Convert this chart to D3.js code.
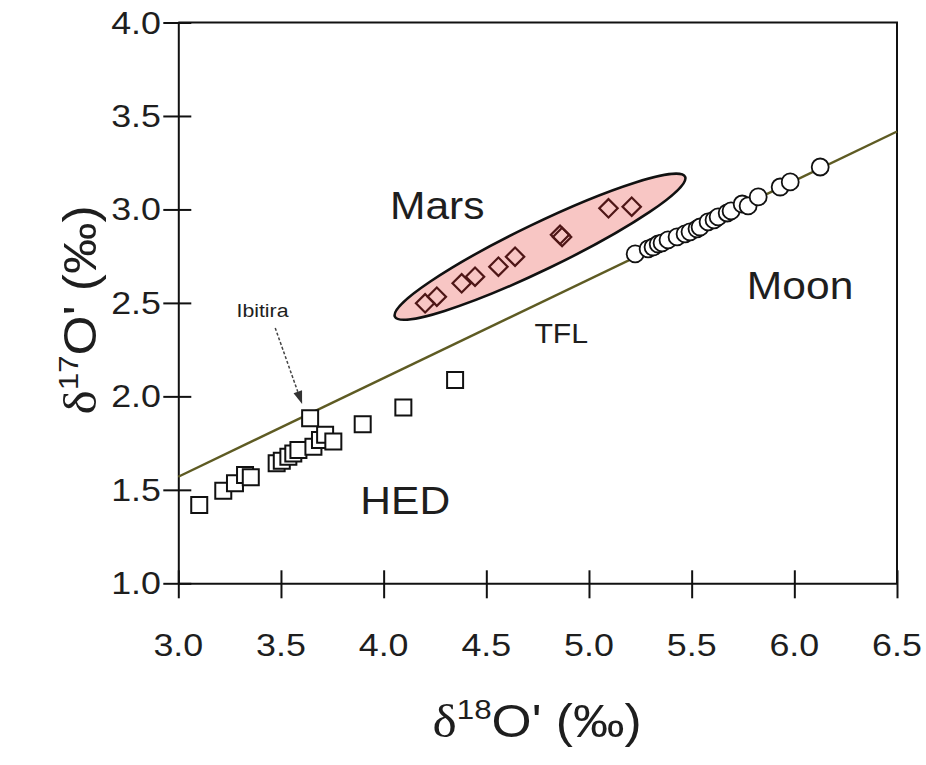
<!DOCTYPE html>
<html>
<head>
<meta charset="utf-8">
<script src="https://cdn.jsdelivr.net/npm/d3@7"></script>
<style>
  body { margin: 0; background: #fff; }
  text { font-family: "Liberation Sans", Arial, sans-serif; fill: #1e1e1e; }
</style>
</head>
<body>
<svg id="chart" width="926" height="765"></svg>
<script>
// Axis ticks
const xTicks = [3.0, 3.5, 4.0, 4.5, 5.0, 5.5, 6.0, 6.5];
const yTicks = [1.0, 1.5, 2.0, 2.5, 3.0, 3.5, 4.0];

// HED meteorites (squares)
const hedX = [3.102, 3.219, 3.276, 3.325, 3.353, 3.479, 3.504, 3.536, 3.560, 3.585, 3.658, 3.690, 3.715, 3.755, 3.898, 4.096, 4.348];
const hedY = [1.419, 1.495, 1.535, 1.579, 1.567, 1.642, 1.656, 1.677, 1.695, 1.713, 1.731, 1.767, 1.794, 1.758, 1.851, 1.940, 2.088];
// Ibitira (anomalous eucrite)
const ibitiraX = [3.642];
const ibitiraY = [1.883];

// Martian meteorites (diamonds)
const marsX = [4.202, 4.259, 4.380, 4.445, 4.559, 4.640, 4.859, 4.869, 5.095, 5.208];
const marsY = [2.498, 2.533, 2.605, 2.640, 2.694, 2.747, 2.864, 2.853, 3.006, 3.015];

// Lunar samples (circles)
const moonX = [5.225, 5.288, 5.312, 5.337, 5.356, 5.385, 5.429, 5.468, 5.492, 5.526, 5.541, 5.580, 5.609, 5.629, 5.673, 5.692, 5.746, 5.775, 5.824, 5.931, 5.980, 6.126];
const moonY = [2.762, 2.789, 2.799, 2.815, 2.821, 2.837, 2.853, 2.869, 2.880, 2.896, 2.906, 2.933, 2.944, 2.960, 2.981, 2.992, 3.029, 3.019, 3.067, 3.120, 3.147, 3.227];

// Terrestrial fractionation line end points
const tflX = [3.0, 6.5];
const tflY = [1.570, 3.417];

// Mars field ellipse: major-axis ends and one minor-axis end
const marsFieldX = [4.055, 5.468, 4.713];
const marsFieldY = [2.426, 3.175, 2.912];

// Ibitira arrow (start, tip)
const arrowX = [3.472, 3.603];
const arrowY = [2.366, 1.959];

const svg = d3.select("#chart");
const x = d3.scaleLinear().domain([3.0, 6.5]).range([178.3, 897]);
const y = d3.scaleLinear().domain([1.0, 4.0]).range([583.3, 22.5]);

const SX = 1.12; // horizontal text stretch

function label(g, px, py, txt, size, anchor, extra) {
  const t = g.append("text")
    .attr("transform", `translate(${px},${py}) scale(${SX},1)`)
    .attr("text-anchor", anchor || "middle")
    .style("font-size", size + "px");
  if (extra) extra(t);
  else t.text(txt);
  return t;
}

// Frame (top and right)
svg.append("path")
  .attr("d", `M${x(3.0)},${y(4.0)}H${x(6.5)}V${y(1.0)}`)
  .attr("fill", "none").attr("stroke", "#111").attr("stroke-width", 2);

// Axes with ticks crossing the axis line
const xAxis = svg.append("g")
  .attr("transform", `translate(0,${y(1.0)})`)
  .call(d3.axisBottom(x).tickValues(xTicks).tickSize(15).tickSizeOuter(0).tickFormat(""));
xAxis.selectAll(".tick line").attr("y1", -13).attr("y2", 15);
const yAxis = svg.append("g")
  .attr("transform", `translate(${x(3.0)},0)`)
  .call(d3.axisLeft(y).tickValues(yTicks).tickSize(15).tickSizeOuter(0).tickFormat(""));
yAxis.selectAll(".tick line").attr("x1", 13).attr("x2", -15);
svg.selectAll(".domain, .tick line").attr("stroke", "#111").attr("stroke-width", 2);

// Tick labels
const lab = svg.append("g");
xTicks.forEach(v => label(lab, x(v), 656, d3.format(".1f")(v), 32, "middle"));
yTicks.forEach(v => label(lab, 161, y(v) + 11, d3.format(".1f")(v), 32, "end"));

// Axis titles
label(svg, 537, 737, "", 46, "middle", t => {
  t.append("tspan").style("font-family", "'Liberation Serif', serif").text("δ");
  t.append("tspan").attr("dy", -18).style("font-size", "28px").text("18");
  t.append("tspan").attr("dy", 18).text("O' (‰)");
});
svg.append("g").attr("transform", "translate(96,310) rotate(-90)")
  .call(g => label(g, 0, 0, "", 46, "middle", t => {
    t.append("tspan").style("font-family", "'Liberation Serif', serif").text("δ");
    t.append("tspan").attr("dy", -18).style("font-size", "28px").text("17");
    t.append("tspan").attr("dy", 18).text("O' (‰)");
  }));

// TFL
svg.append("line")
  .attr("x1", x(tflX[0])).attr("y1", y(tflY[0]))
  .attr("x2", x(tflX[1])).attr("y2", y(tflY[1]))
  .attr("stroke", "#5e5b23").attr("stroke-width", 2.4);

// Mars field ellipse
{
  const ax = x(marsFieldX[0]), ay = y(marsFieldY[0]);
  const bx = x(marsFieldX[1]), by = y(marsFieldY[1]);
  const cx = (ax + bx) / 2, cy = (ay + by) / 2;
  const rx = Math.hypot(bx - ax, by - ay) / 2;
  const ry = Math.hypot(x(marsFieldX[2]) - cx, y(marsFieldY[2]) - cy);
  const ang = Math.atan2(by - ay, bx - ax) * 180 / Math.PI;
  svg.append("ellipse")
    .attr("cx", cx).attr("cy", cy).attr("rx", rx).attr("ry", ry)
    .attr("transform", `rotate(${ang},${cx},${cy})`)
    .attr("fill", "#f8c6c4").attr("stroke", "#111").attr("stroke-width", 2.6);
}

// Ibitira arrow
{
  const x1 = x(arrowX[0]), y1 = y(arrowY[0]), x2 = x(arrowX[1]), y2 = y(arrowY[1]);
  const a = Math.atan2(y2 - y1, x2 - x1);
  const L = 13, W = 4.5;
  const bx = x2 - L * Math.cos(a), by = y2 - L * Math.sin(a);
  svg.append("line").attr("x1", x1).attr("y1", y1).attr("x2", bx).attr("y2", by)
    .attr("stroke", "#444").attr("stroke-width", 1.5).attr("stroke-dasharray", "3,2");
  svg.append("path")
    .attr("d", `M${x2},${y2}L${bx - W * Math.sin(a)},${by + W * Math.cos(a)}L${bx + W * Math.sin(a)},${by - W * Math.cos(a)}Z`)
    .attr("fill", "#333");
}

// Markers
const sq = d3.symbol().type(d3.symbolSquare).size(16 * 16);
const hed = d3.zip(hedX.concat(ibitiraX), hedY.concat(ibitiraY));
svg.append("g").selectAll("path").data(hed).join("path")
  .attr("d", sq)
  .attr("transform", d => `translate(${x(d[0])},${y(d[1])})`)
  .attr("fill", "#fff").attr("stroke", "#111").attr("stroke-width", 2);

const dia = d3.symbol().type(d3.symbolSquare).size(13 * 13);
svg.append("g").selectAll("path").data(d3.zip(marsX, marsY)).join("path")
  .attr("d", dia)
  .attr("transform", d => `translate(${x(d[0])},${y(d[1])}) rotate(45)`)
  .attr("fill", "none").attr("stroke", "#4e1616").attr("stroke-width", 2.2);

svg.append("g").selectAll("circle").data(d3.zip(moonX, moonY)).join("circle")
  .attr("cx", d => x(d[0])).attr("cy", d => y(d[1])).attr("r", 8.5)
  .attr("fill", "#fff").attr("stroke", "#111").attr("stroke-width", 1.8);

// Field labels
label(svg, x(4.261), y(3.024) + 14, "Mars", 38, "middle");
label(svg, x(6.028), y(2.596) + 14, "Moon", 38, "middle");
label(svg, x(4.105), y(1.446) + 14, "HED", 38, "middle");
label(svg, x(4.865), y(2.338) + 10, "TFL", 27, "middle");
label(svg, x(3.41), y(2.46) + 7, "Ibitira", 19, "middle");
</script>
</body>
</html>
